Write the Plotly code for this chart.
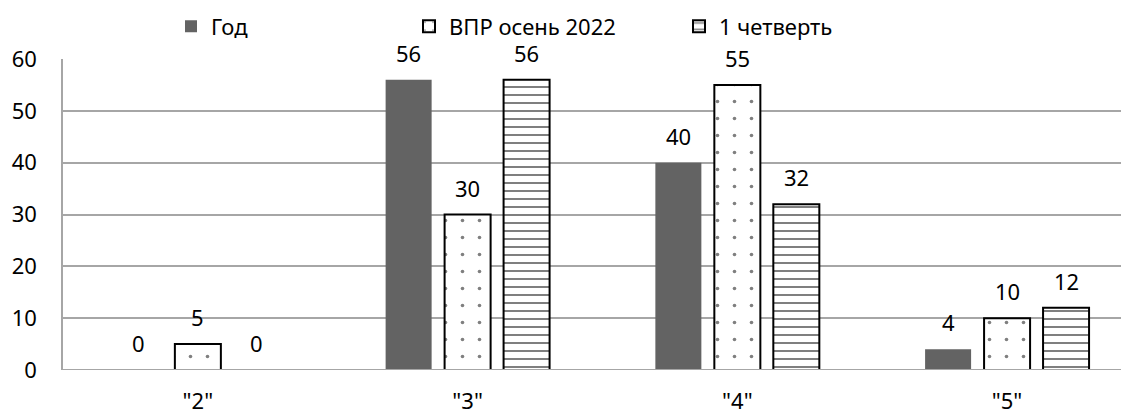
import plotly.graph_objects as go

categories = ['"2"', '"3"', '"4"', '"5"']
series_names = ["Год", "ВПР осень 2022", "1 четверть"]
god = [0, 56, 40, 4]
vpr = [5, 30, 55, 10]
q1 = [0, 56, 32, 12]
y_ticks = [0, 10, 20, 30, 40, 50, 60]

FONT = "Noto Sans"
FS = 22
GRID = "#a6a6a6"

fig = go.Figure()
fig.add_trace(go.Bar(
    x=categories, y=god, name=series_names[0], legend="legend",
    marker=dict(color="#636363", line=dict(width=0)),
))
fig.add_trace(go.Bar(
    x=categories, y=vpr, name=series_names[1], legend="legend2",
    marker=dict(color="white", line=dict(color="black", width=2),
                pattern=dict(shape=".", fgcolor="black", bgcolor="white",
                             size=17, solidity=0.035)),
))
fig.add_trace(go.Bar(
    x=categories, y=q1, name=series_names[2], legend="legend3",
    marker=dict(color="white", line=dict(color="black", width=2),
                pattern=dict(shape="-", fgcolor="black", bgcolor="white",
                             size=8, solidity=0.25)),
))

annotations = []
for k, vals in enumerate([god, vpr, q1]):
    for c, v in zip(categories, vals):
        annotations.append(dict(
            x=c, y=v, xref="x", yref="y", text=str(v), showarrow=False,
            xshift=(k - 1) * 59, yshift=27, yanchor="middle",
            font=dict(family=FONT, size=FS, color="black"),
        ))

legend_common = dict(orientation="h", yanchor="middle", xanchor="left", y=1.105,
                     font=dict(family=FONT, size=FS, color="black"),
                     bgcolor="rgba(0,0,0,0)", itemwidth=30)

# page body has an 8px margin, so the figure is 8px smaller and margins 8px less
fig.update_layout(
    width=1121, height=406,
    margin=dict(l=55, r=0, t=51, b=44, autoexpand=False),
    plot_bgcolor="white", paper_bgcolor="white",
    barmode="group", bargap=0.344, bargroupgap=0.22,
    font=dict(family=FONT, size=FS, color="black"),
    showlegend=True,
    legend=dict(x=(171 - 63) / 1066, **legend_common),
    legend2=dict(x=(409 - 63) / 1066, **legend_common),
    legend3=dict(x=(679 - 63) / 1066, **legend_common),
    annotations=annotations,
    # category axis baseline drawn above the bars (as in the original)
    shapes=[dict(type="line", xref="paper", yref="y", x0=0, x1=1, y0=0, y1=0,
                 line=dict(color=GRID, width=2), layer="above")],
)
fig.update_xaxes(
    range=[-0.5, 3.452], showgrid=False, showline=False, ticks="",
    automargin=False,
    ticklabelstandoff=16, tickfont=dict(family=FONT, size=FS, color="black"),
)
fig.update_yaxes(
    range=[0, 60], tickvals=y_ticks, showgrid=True, gridcolor=GRID, gridwidth=1.5,
    zeroline=False,
    showline=True, linecolor=GRID, linewidth=1.5, ticks="",
    automargin=False,
    ticklabelstandoff=20, tickfont=dict(family=FONT, size=FS, color="black"),
)
fig.write_html("out.html")
